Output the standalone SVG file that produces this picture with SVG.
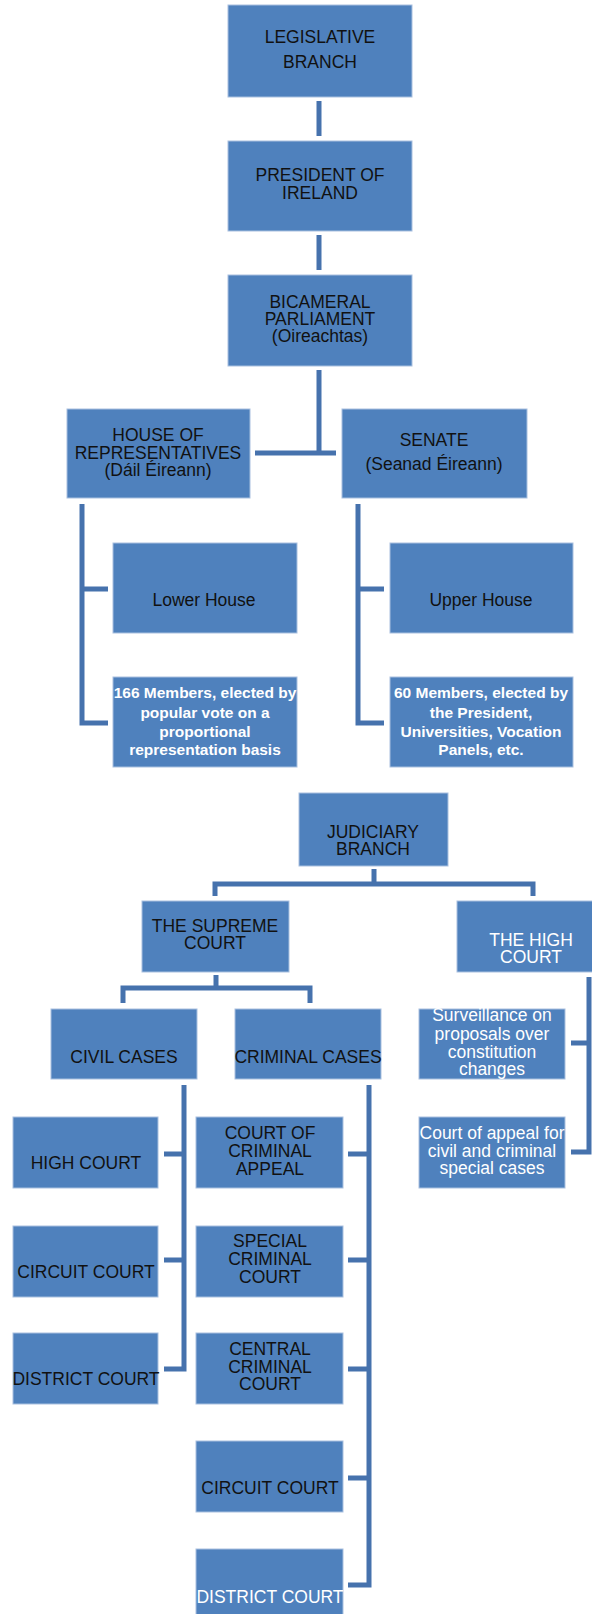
<svg xmlns="http://www.w3.org/2000/svg" width="592" height="1614" viewBox="0 0 592 1614">
<style>
.box{fill:#4F81BD;stroke:#A9C0DF;stroke-width:1}
.t{font-family:"Liberation Sans",Arial,sans-serif;font-size:17.5px;fill:#111;text-anchor:middle}
.w{fill:#fff}
.b{font-weight:bold;font-size:15.5px}
.c{fill:none;stroke:#4672AD;stroke-width:5;stroke-linejoin:miter}
</style>
<rect width="592" height="1614" fill="#fff"/>
<g id="connectors">
<path class="c" d="M319,101V136M319,235V270M319,370V453M255,453H336"/>
<path class="c" d="M82,504V723H108M82,589H108"/>
<path class="c" d="M358,504V723H384M358,589H384"/>
<path class="c" d="M374,869V884M215,896V884H533V896"/>
<path class="c" d="M216,975V988M123,1003V988H310V1003"/>
<path class="c" d="M184,1085V1369H164M164,1154H184M164,1260H184"/>
<path class="c" d="M369,1085V1585H348M348,1154H369M348,1260H369M348,1369H369M348,1478H369"/>
<path class="c" d="M589,977V1152H571M571,1043H589"/>
</g>
<g id="legislative"><rect class="box" x="228" y="5" width="184" height="92"/><text class="t"><tspan x="320" y="43">LEGISLATIVE</tspan><tspan x="320" y="68">BRANCH</tspan></text></g>
<g id="president"><rect class="box" x="228" y="141" width="184" height="90"/><text class="t"><tspan x="320" y="181">PRESIDENT OF</tspan><tspan x="320" y="199">IRELAND</tspan></text></g>
<g id="parliament"><rect class="box" x="228" y="275" width="184" height="91"/><text class="t"><tspan x="320" y="308">BICAMERAL</tspan><tspan x="320" y="325">PARLIAMENT</tspan><tspan x="320" y="342">(Oireachtas)</tspan></text></g>
<g id="house"><rect class="box" x="67" y="409" width="183" height="89"/><text class="t"><tspan x="158" y="441">HOUSE OF</tspan><tspan x="158" y="459">REPRESENTATIVES</tspan><tspan x="158" y="476">(Dáil Éireann)</tspan></text></g>
<g id="senate"><rect class="box" x="342" y="409" width="185" height="89"/><text class="t"><tspan x="434" y="446">SENATE</tspan><tspan x="434" y="470">(Seanad Éireann)</tspan></text></g>
<g id="lower"><rect class="box" x="113" y="543" width="184" height="90"/><text class="t" x="204" y="606">Lower House</text></g>
<g id="lower-members"><rect class="box" x="113" y="677" width="184" height="90"/><text class="t b w"><tspan x="205" y="698">166 Members, elected by</tspan><tspan x="205" y="718">popular vote on a</tspan><tspan x="205" y="737">proportional</tspan><tspan x="205" y="755">representation basis</tspan></text></g>
<g id="upper"><rect class="box" x="390" y="543" width="183" height="90"/><text class="t" x="481" y="606">Upper House</text></g>
<g id="upper-members"><rect class="box" x="390" y="677" width="183" height="90"/><text class="t b w"><tspan x="481" y="698">60 Members, elected by</tspan><tspan x="481" y="718">the President,</tspan><tspan x="481" y="737">Universities, Vocation</tspan><tspan x="481" y="755">Panels, etc.</tspan></text></g>
<g id="judiciary"><rect class="box" x="299" y="793" width="149" height="73"/><text class="t"><tspan x="373" y="838">JUDICIARY</tspan><tspan x="373" y="855">BRANCH</tspan></text></g>
<g id="supreme"><rect class="box" x="142" y="901" width="147" height="71"/><text class="t"><tspan x="215" y="932">THE SUPREME</tspan><tspan x="215" y="949">COURT</tspan></text></g>
<g id="highcourt"><rect class="box" x="457" y="901" width="147" height="71"/><text class="t w"><tspan x="531" y="946">THE HIGH</tspan><tspan x="531" y="963">COURT</tspan></text></g>
<g id="surveillance"><rect class="box" x="419" y="1009" width="146" height="70"/><text class="t w"><tspan x="492" y="1021">Surveillance on</tspan><tspan x="492" y="1040">proposals over</tspan><tspan x="492" y="1058">constitution</tspan><tspan x="492" y="1075">changes</tspan></text></g>
<g id="appeal"><rect class="box" x="419" y="1117" width="146" height="71"/><text class="t w"><tspan x="492" y="1139">Court of appeal for</tspan><tspan x="492" y="1157">civil and criminal</tspan><tspan x="492" y="1174">special cases</tspan></text></g>
<g id="civil"><rect class="box" x="51" y="1009" width="146" height="70"/><text class="t" x="124" y="1063">CIVIL CASES</text></g>
<g id="criminal"><rect class="box" x="235" y="1009" width="146" height="70"/><text class="t" x="308" y="1063">CRIMINAL CASES</text></g>
<g id="civil-high"><rect class="box" x="13" y="1117" width="145" height="71"/><text class="t" x="86" y="1169">HIGH COURT</text></g>
<g id="civil-circuit"><rect class="box" x="13" y="1226" width="145" height="71"/><text class="t" x="86" y="1278">CIRCUIT COURT</text></g>
<g id="civil-district"><rect class="box" x="13" y="1333" width="145" height="71"/><text class="t" x="86" y="1385">DISTRICT COURT</text></g>
<g id="crim-appeal"><rect class="box" x="196" y="1117" width="147" height="71"/><text class="t"><tspan x="270" y="1139">COURT OF</tspan><tspan x="270" y="1157">CRIMINAL</tspan><tspan x="270" y="1175">APPEAL</tspan></text></g>
<g id="crim-special"><rect class="box" x="196" y="1226" width="147" height="71"/><text class="t"><tspan x="270" y="1247">SPECIAL</tspan><tspan x="270" y="1265">CRIMINAL</tspan><tspan x="270" y="1283">COURT</tspan></text></g>
<g id="crim-central"><rect class="box" x="196" y="1333" width="147" height="71"/><text class="t"><tspan x="270" y="1355">CENTRAL</tspan><tspan x="270" y="1373">CRIMINAL</tspan><tspan x="270" y="1390">COURT</tspan></text></g>
<g id="crim-circuit"><rect class="box" x="196" y="1441" width="147" height="71"/><text class="t" x="270" y="1494">CIRCUIT COURT</text></g>
<g id="crim-district"><rect class="box" x="196" y="1549" width="147" height="70"/><text class="t w" x="270" y="1603">DISTRICT COURT</text></g>
</svg>
